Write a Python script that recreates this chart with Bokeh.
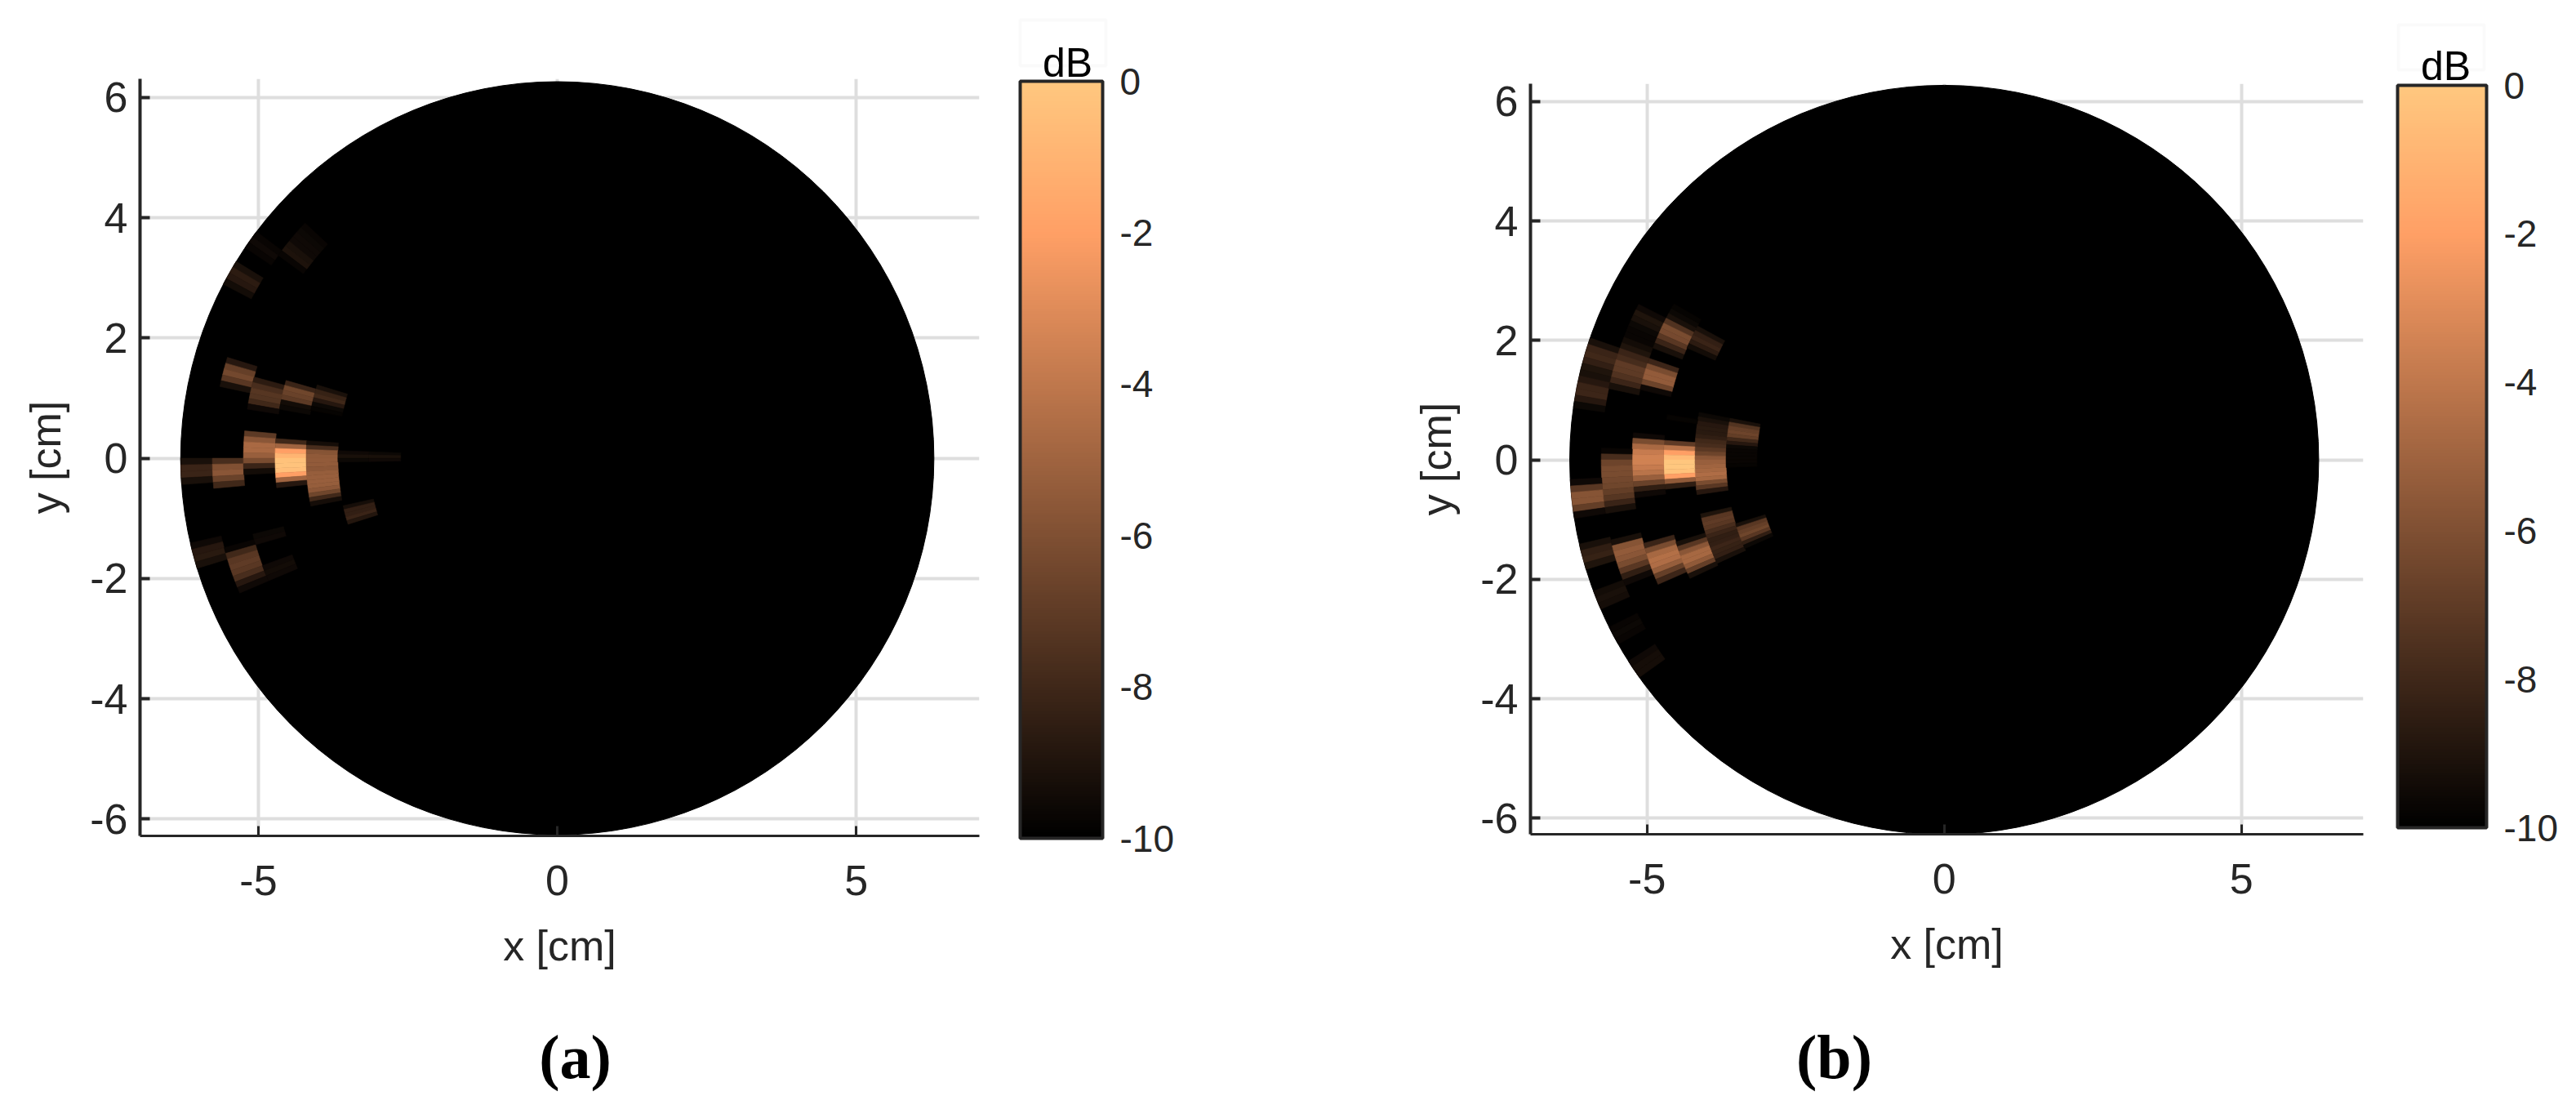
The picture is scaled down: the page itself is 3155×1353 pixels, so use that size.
from bokeh.embed import file_html
from bokeh.layouts import column, row
from bokeh.models import BoxAnnotation, ColumnDataSource, FixedTicker, Label, LinearColorMapper, Range1d
from bokeh.plotting import figure
from bokeh.resources import INLINE
import numpy as np

# ---------- chart values ----------
X_TICKS = [-5, 0, 5]
Y_TICKS = [-6, -4, -2, 0, 2, 4, 6]
CB_TICKS = [-10, -8, -6, -4, -2, 0]
X_LABEL = "x [cm]"
Y_LABEL = "y [cm]"
CB_TITLE = "dB"
CAPTIONS = ["(a)", "(b)"]
DISC_RADIUS = 6.3
# radial range cells (cm), outermost first
BIN_OUTER = [6.3, 5.77, 5.25, 4.72, 4.2, 3.67, 3.15]
BIN_INNER = [5.77, 5.25, 4.72, 4.2, 3.67, 3.15, 2.62]
STRIP_DEG = 1.0

# panel (a): radial bin, top angle above the -x axis (deg), dB of each 1-degree strip
A_BIN = [0, 1, 2, 3, 4, 5, 6, 5, 0, 1, 2, 2, 1, 2, 3, 4, 0, 0, 1]
A_TOP = [0, 0, 5, 4, 4, 2, 2, -12.5, -13, -15, -14, -20, 17, 15, 16, 17, 31.5, 37, 43]
A_DB = [
    [-9.2, -8.2, -8.2, -9.2],
    [-7.7, -6.0, -5.7, -6.7, -8.0],
    [-7.1, -5.7, -4.7, -4.7, -5.2, -6.2, -8.2, -9.4],
    [-8.0, -5.0, -2.0, -1.0, -0.3, -0.2, -0.4, -2.0, -5.0, -8.8],
    [-9.3, -7.7, -5.8, -5.5, -5.4, -5.4, -5.6, -5.3, -5.2, -5.2, -5.3, -5.6, -6.5, -8.0, -9.3],
    [-9.5, -9.2, -9.6],
    [-9.6, -9.2, -9.5],
    [-9.3, -8.4, -8.4, -8.2, -8.9],
    [-9.5, -8.8, -8.7, -9.2],
    [-9.7, -8.0, -7.2, -7.0, -7.2, -7.7, -8.8, -9.5],
    [-9.6, -9.5],
    [-9.5, -9.4, -9.5],
    [-8.8, -6.8, -6.4, -7.2, -9.2],
    [-8.6, -7.7, -7.3, -7.4, -8.0, -9.5],
    [-8.2, -6.5, -6.7, -7.1, -9.4, -9.6],
    [-9.2, -8.3, -8.0, -8.8, -9.6, -9.8],
    [-9.2, -8.6, -8.8, -9.4],
    [-9.7, -9.5, -9.7],
    [-9.7, -9.6, -9.5, -9.5, -9.2, -9.1, -9.7],
]

# panel (b)
B_BIN = [0, 1, 2, 2, 3, 4, 5, 3, 3, 2, 1, 0, 0, 1, 2, 3, 4, 5, 0, 0, 0]
B_TOP = [19, 27, 19, 30, 28.5, 11, 11, 9.3, 4, 5, 2, -3, -13, -13.5, -15.5, -17, -12.5, -17, -20.5, -26.5, -32.5]
B_DB = [
    [-9.2, -8.2, -8.0, -8.4, -9.0, -9.2, -8.8, -8.2, -8.1, -8.8, -9.6],
    [-9.5, -9.0, -9.2, -9.6, -9.7, -9.7, -9.4, -9.0, -8.2, -7.8, -7.0, -7.1, -7.5, -8.1, -9.2],
    [-8.1, -6.2, -5.4, -5.4, -6.6, -9.5],
    [-9.8, -9.6, -9.2, -7.5, -6.2, -6.3, -7.2, -8.2, -9.2],
    [-9.2, -8.4, -8.2, -8.6, -9.4],
    [-9.6, -9.2, -8.8, -8.7, -8.7, -8.5, -8.0, -7.7, -7.2, -6.6, -5.7, -5.2, -5.0, -4.8, -4.5, -4.8, -6.2, -7.2, -8.8],
    [-9.2, -7.4, -6.8, -6.6, -6.9, -8.0, -8.8, -9.6, -9.7, -9.7, -9.7, -9.7, -9.8],
    [-9.8],
    [-7.0, -4.2, -2.0, -0.6, -0.1, 0.0, -0.3, -2.0, -5.5, -8.5],
    [-9.5, -6.2, -4.7, -3.8, -3.5, -3.5, -3.8, -4.2, -5.2, -6.7, -8.5, -9.5],
    [-9.7, -7.7, -6.6, -6.2, -6.2, -6.4, -6.5, -6.9, -7.3, -8.2, -9.2],
    [-9.5, -7.2, -5.8, -5.8, -6.9, -9.5],
    [-9.2, -8.5, -8.3, -9.0],
    [-9.2, -5.8, -5.4, -5.7, -6.2, -7.2, -8.5, -9.5],
    [-8.2, -6.2, -4.8, -4.4, -4.5, -5.3, -6.8, -8.1],
    [-9.2, -7.2, -5.7, -4.8, -4.8, -5.5, -6.8, -9.2],
    [-9.0, -7.2, -7.0, -7.2, -7.7, -8.2, -8.5, -8.4, -8.1, -8.3, -8.4, -9.2],
    [-9.2, -7.2, -6.8, -6.5, -7.2, -8.5, -9.6],
    [-9.4, -9.2, -9.3],
    [-9.7, -9.6, -9.7],
    [-9.5, -9.3, -9.3],
]

# ---------- style ----------
INK = "#262626"
GRID = "#dedede"
BOX = "#efefef"
SANS = "Liberation Sans"
SERIF = "Liberation Serif"
TICK_PT = "52px"
CB_PT = "46px"
# MATLAB copper
COPPER = []
for i in range(256):
    t = i / 255
    COPPER.append("#%02x%02x%02x" % (int(round(255 * min(1, 1.25 * t))), int(round(255 * 0.7812 * t)), int(round(255 * 0.4975 * t))))
mapper = LinearColorMapper(palette=COPPER, low=-10, high=0)


def strips(bins, tops, levels):
    d = dict(inner=[], outer=[], start=[], end=[], db=[])
    for b, top, vals in zip(bins, tops, levels):
        for k, v in enumerate(vals):
            phi = top - k * STRIP_DEG
            d["inner"].append(BIN_INNER[b])
            d["outer"].append(BIN_OUTER[b])
            d["start"].append(180 - phi)
            d["end"].append(180 - phi + STRIP_DEG)
            d["db"].append(v)
    return ColumnDataSource(d)


def panel(src, xr, yr, frame_w, frame_h, left, right, top, bottom):
    p = figure(
        output_backend="svg", toolbar_location=None, frame_align=False,
        x_range=Range1d(*xr), y_range=Range1d(*yr),
        frame_width=frame_w, frame_height=frame_h,
        min_border_left=left, min_border_right=right, min_border_top=top, min_border_bottom=bottom,
        background_fill_color="white", border_fill_color="white", outline_line_color=None,
    )
    p.xaxis.ticker = FixedTicker(ticks=X_TICKS)
    p.yaxis.ticker = FixedTicker(ticks=Y_TICKS)
    p.xgrid.ticker = FixedTicker(ticks=X_TICKS)
    p.ygrid.ticker = FixedTicker(ticks=Y_TICKS)
    p.xaxis.major_label_overrides = {t: str(t) for t in X_TICKS}
    p.yaxis.major_label_overrides = {t: str(t) for t in Y_TICKS}
    p.grid.grid_line_color = GRID
    p.grid.grid_line_width = 4
    for ax, w in ((p.xaxis, 3), (p.yaxis, 4)):
        ax.axis_line_color = INK
        ax.axis_line_width = w
        ax.major_tick_line_color = INK
        ax.major_tick_line_width = w
        ax.major_tick_in = 12
        ax.major_tick_out = 0
        ax.minor_tick_line_color = None
        ax.major_label_text_font = SANS
        ax.major_label_text_font_size = TICK_PT
        ax.major_label_text_color = INK
        ax.axis_label_text_font = SANS
        ax.axis_label_text_font_size = TICK_PT
        ax.axis_label_text_font_style = "normal"
        ax.axis_label_text_color = INK
    p.xaxis.axis_label = X_LABEL
    p.yaxis.axis_label = Y_LABEL
    p.xaxis.major_label_standoff = 36
    p.yaxis.major_label_standoff = 15
    p.xaxis.axis_label_standoff = 30
    p.yaxis.axis_label_standoff = 22
    p.circle(x=[0], y=[0], radius=[DISC_RADIUS], fill_color="black", line_color="black")
    p.annular_wedge(
        x=0, y=0, inner_radius="inner", outer_radius="outer",
        start_angle="start", end_angle="end", start_angle_units="deg", end_angle_units="deg",
        source=src,
        fill_color={"field": "db", "transform": mapper},
        line_color={"field": "db", "transform": mapper}, line_width=0.6,
    )
    return p


def colorbar(origin_x, end_x, end_y, bar, frame, box, title_xy):
    """All geometry in page pixels. bar/frame/box = (left, right, top, bottom)."""
    bl, br, bt, bb = bar
    fl, fr, ft, fb = frame
    per_x = br - bl
    per_y = (bb - bt) / 10.0
    p = figure(
        output_backend="svg", toolbar_location=None, frame_align=False,
        x_range=Range1d((fl - bl) / per_x, 1 + (fr - br) / per_x),
        y_range=Range1d(-10 - (fb - bb) / per_y, (bt - ft) / per_y),
        y_axis_location="right",
        frame_width=fr - fl, frame_height=fb - ft,
        min_border_left=fl - origin_x, min_border_right=end_x - fr, min_border_top=ft - 1, min_border_bottom=end_y - fb,
        outline_line_color=None, border_fill_color="white",
    )
    p.grid.visible = False
    p.xaxis.visible = False
    scale = np.linspace(-10, 0, 256).reshape(-1, 1)
    p.image(image=[scale], x=0, y=-10, dw=1, dh=10, color_mapper=mapper)
    p.quad(left=[0], right=[1], top=[0], bottom=[-10], fill_color=None, line_color=INK, line_width=4)
    ax = p.yaxis[0]
    ax.ticker = FixedTicker(ticks=CB_TICKS)
    ax.major_label_overrides = {t: str(t) for t in CB_TICKS}
    ax.axis_line_color = None
    ax.major_tick_line_color = None
    ax.minor_tick_line_color = None
    ax.major_tick_in = 0
    ax.major_tick_out = 0
    ax.major_label_standoff = 7
    ax.major_label_text_font = SANS
    ax.major_label_text_font_size = CB_PT
    ax.major_label_text_color = INK
    p.add_layout(BoxAnnotation(
        left=box[0] - fl, right=box[1] - fl, top=fb - box[2], bottom=fb - box[3],
        left_units="screen", right_units="screen", top_units="screen", bottom_units="screen",
        fill_color=None, line_color=BOX, line_width=4,
    ))
    p.add_layout(Label(
        x=title_xy[0] - fl, y=fb - title_xy[1], x_units="screen", y_units="screen", text=CB_TITLE,
        text_font=SANS, text_font_size="50px", text_color="black",
        text_align="center", text_baseline="alphabetic",
    ))
    return p


a = panel(strips(A_BIN, A_TOP, A_DB), (-6.98, 7.06), (-6.28, 6.31), 1028, 927, 171, 30, 96, 199)
cba = colorbar(1230, 1700, 1223, (1250, 1351, 100, 1027), (1240, 1365, 12, 1035), (1250, 1355, 25, 81), (1308, 77))
b = panel(strips(B_BIN, B_TOP, B_DB), (-6.96, 7.05), (-6.27, 6.3), 1020, 919, 175, 20, 102, 201)
cbb = colorbar(2915, 3138, 1223, (2937, 3046, 105, 1014), (2927, 3060, 14, 1020), (2938, 3043, 31, 86), (2996, 81))

cap = figure(
    output_backend="svg", toolbar_location=None, frame_align=False,
    x_range=Range1d(0, 1), y_range=Range1d(0, 1),
    frame_width=3137, frame_height=120,
    min_border_left=0, min_border_right=0, min_border_top=0, min_border_bottom=0,
    outline_line_color=None, border_fill_color="white",
)
cap.grid.visible = False
cap.axis.visible = False
for text, cx in zip(CAPTIONS, (704, 2246)):
    cap.add_layout(Label(
        x=cx, y=49, x_units="screen", y_units="screen", text=text,
        text_font=SERIF, text_font_style="bold", text_font_size="76px",
        text_color="black", text_align="center", text_baseline="alphabetic",
    ))

top_row = row(a, cba, b, cbb, spacing=0)
page = column(top_row, cap, spacing=0)
open("out.html", "w").write(file_html(page, INLINE))
